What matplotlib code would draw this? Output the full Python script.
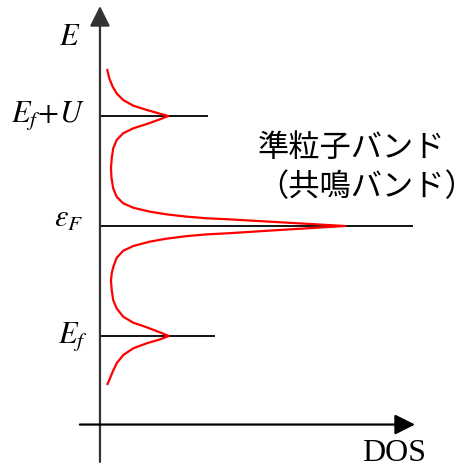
import matplotlib
matplotlib.use("Agg")
import matplotlib.pyplot as plt

plt.rcParams['mathtext.fontset'] = 'stix'
plt.rcParams['font.family'] = ['Liberation Serif', 'DejaVu Serif']

# energy levels (units of U, measured from the Fermi level)
level_names = [r'$E_f\!+\!U$', r'$\varepsilon_F$', r'$E_f$']
level_energy = [1.0, 0.0, -1.0]
level_extent = [0.44, 1.278, 0.47]   # how far each level line runs along DOS

# density of states, traced from top to bottom
dos_energy = [1.418, 1.343, 1.266, 1.206, 1.145, 1.094, 1.055, 1.025, 1.0,
              0.964, 0.927, 0.888, 0.843, 0.782, 0.706, 0.615, 0.525, 0.44,
              0.343, 0.266, 0.206, 0.166, 0.130, 0.106, 0.085, 0.070, 0.061,
              0.034, 0.0, -0.036, -0.066, -0.076, -0.092, -0.115, -0.142,
              -0.182, -0.225, -0.29, -0.375, -0.43, -0.5, -0.582, -0.673,
              -0.748, -0.825, -0.879, -0.921, -0.961, -1.0, -1.036, -1.066,
              -1.112, -1.173, -1.248, -1.325, -1.4, -1.436]
dos_value = [0.030, 0.038, 0.052, 0.068, 0.095, 0.136, 0.191, 0.238, 0.279,
             0.238, 0.191, 0.136, 0.095, 0.068, 0.054, 0.048, 0.045, 0.047,
             0.054, 0.068, 0.095, 0.136, 0.204, 0.272, 0.354, 0.436, 0.524,
             0.735, 1.0, 0.735, 0.524, 0.436, 0.354, 0.272, 0.204,
             0.136, 0.095, 0.068, 0.054, 0.048, 0.045, 0.048, 0.054,
             0.068, 0.095, 0.136, 0.191, 0.238, 0.282, 0.238, 0.191,
             0.136, 0.095, 0.068, 0.052, 0.038, 0.031]

fig = plt.figure(figsize=(4.65, 4.68), dpi=100)
ax = fig.add_axes([0, 0, 1, 1])
ax.set_xlim(-0.408, 1.490)
ax.set_ylim(-2.2, 2.0545)
ax.axis('off')

# axes with arrow heads
arrow = dict(arrowstyle='-|>,head_length=0.44,head_width=0.22', mutation_scale=28,
             lw=1.6, color='black', shrinkA=0, shrinkB=0)
ax.annotate('', xy=(0, 2.0), xytext=(0, -2.145), arrowprops=dict(arrow, color='#333333'))
ax.annotate('', xy=(1.286, -1.805), xytext=(-0.082, -1.805), arrowprops=arrow)

# level lines
for e, ext in zip(level_energy, level_extent):
    ax.plot([0, ext], [e, e], color='black', lw=1.3, solid_capstyle='butt')

ax.plot(dos_value, dos_energy, color='red', lw=1.6, solid_joinstyle='round')

# labels
fs = 22
ax.text(-0.078, 1.645, r'$E$', fontsize=fs, ha='right', va='baseline')
ax.text(-0.0612, 0.945, level_names[0], fontsize=fs, ha='right', va='baseline')
ax.text(-0.0694, -0.009, level_names[1], fontsize=fs, ha='right', va='baseline')
ax.text(-0.049, -1.064, level_names[2], fontsize=fs, ha='right', va='baseline')
ax.text(1.069, -2.136, 'DOS', fontsize=23, ha='left', va='baseline')

jp = ['Noto Sans CJK JP', 'DejaVu Sans']
ax.text(0.643, 0.709, '準粒子バンド', fontsize=22.5, family=jp, ha='left', va='center')
ax.text(0.643, 0.355, '（共鳴バンド）', fontsize=22.5, family=jp, ha='left', va='center')

fig.savefig('out.png', dpi=100)
